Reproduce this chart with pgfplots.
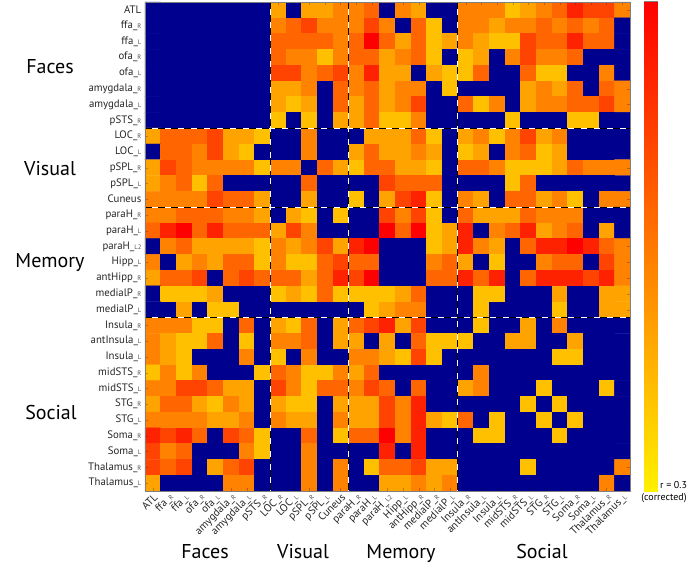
\documentclass[border=0pt]{standalone}
\usepackage{fontspec}
\setmainfont{PT Sans}
\usepackage{pgfplots}
\usepackage{pgfplotstable}
\pgfplotsset{compat=1.18}

\newcommand{\lb}[2]{#1\_{\fontsize{6.5}{7}\selectfont\color{black!70} #2}}
\def\labs{ATL,\lb{ffa}{R},\lb{ffa}{L},\lb{ofa}{R},\lb{ofa}{L},\lb{amygdala}{R},\lb{amygdala}{L},\lb{pSTS}{R},\lb{LOC}{R},\lb{LOC}{L},\lb{pSPL}{R},\lb{pSPL}{L},Cuneus,\lb{paraH}{R},\lb{paraH}{L},\lb{paraH}{L2},\lb{Hipp}{L},\lb{antHipp}{R},\lb{medialP}{R},\lb{medialP}{L},\lb{Insula}{R},\lb{antInsula}{L},\lb{Insula}{L},\lb{midSTS}{R},\lb{midSTS}{L},\lb{STG}{R},\lb{STG}{L},\lb{Soma}{R},\lb{Soma}{L},\lb{Thalamus}{R},\lb{Thalamus}{L}}

% r x 100, row by row, 0 = not significant
\pgfplotstableread[row sep=crcr]{
c\\
0\\0\\0\\0\\0\\0\\0\\0\\46\\0\\46\\46\\53\\53\\59\\0\\53\\46\\0\\0\\53\\53\\53\\40\\46\\53\\59\\73\\66\\66\\53\\
0\\0\\0\\0\\0\\0\\0\\0\\53\\59\\66\\53\\53\\53\\66\\53\\0\\59\\40\\0\\53\\53\\46\\53\\53\\59\\53\\59\\53\\59\\0\\
0\\0\\0\\0\\0\\0\\0\\0\\59\\59\\59\\59\\53\\59\\80\\59\\46\\59\\40\\46\\53\\46\\40\\40\\66\\59\\59\\73\\59\\59\\0\\
0\\0\\0\\0\\0\\0\\0\\0\\59\\53\\53\\40\\53\\59\\59\\46\\53\\59\\40\\0\\40\\46\\0\\53\\66\\53\\53\\59\\0\\0\\0\\
0\\0\\0\\0\\0\\0\\0\\0\\66\\66\\53\\59\\66\\53\\73\\46\\46\\0\\46\\40\\40\\59\\0\\0\\59\\40\\40\\0\\0\\53\\0\\
0\\0\\0\\0\\0\\0\\0\\0\\46\\46\\53\\0\\59\\53\\59\\46\\53\\53\\0\\40\\0\\0\\0\\0\\46\\53\\46\\59\\0\\59\\53\\
0\\0\\0\\0\\0\\0\\0\\0\\46\\40\\46\\0\\59\\46\\59\\46\\53\\66\\0\\0\\59\\40\\53\\0\\46\\53\\53\\59\\59\\66\\53\\
0\\0\\0\\0\\0\\0\\0\\0\\40\\0\\40\\0\\46\\46\\59\\40\\40\\53\\0\\0\\0\\0\\0\\40\\0\\0\\0\\40\\40\\0\\0\\
46\\59\\59\\59\\66\\46\\46\\40\\0\\0\\53\\0\\0\\0\\46\\46\\46\\59\\40\\0\\46\\53\\40\\53\\66\\46\\53\\0\\0\\0\\0\\
0\\59\\59\\53\\66\\46\\40\\0\\0\\0\\53\\0\\0\\46\\59\\46\\46\\53\\46\\0\\40\\46\\0\\53\\59\\40\\46\\0\\0\\0\\0\\
46\\66\\59\\53\\53\\53\\53\\40\\53\\53\\0\\59\\46\\40\\59\\59\\46\\46\\40\\0\\59\\59\\53\\40\\40\\40\\46\\59\\53\\53\\53\\
46\\53\\59\\40\\59\\0\\0\\0\\0\\0\\59\\0\\0\\0\\0\\66\\59\\59\\59\\0\\0\\0\\0\\40\\59\\0\\0\\0\\0\\0\\0\\
53\\53\\53\\53\\66\\59\\59\\46\\0\\0\\46\\0\\0\\40\\0\\46\\66\\73\\40\\0\\53\\46\\0\\59\\59\\46\\53\\40\\0\\53\\53\\
53\\53\\59\\59\\59\\53\\53\\46\\0\\46\\40\\0\\40\\0\\0\\66\\53\\66\\40\\0\\59\\46\\46\\46\\59\\53\\53\\53\\0\\0\\0\\
59\\73\\80\\59\\73\\59\\59\\59\\46\\66\\53\\0\\0\\0\\0\\80\\59\\80\\40\\46\\73\\0\\53\\59\\73\\46\\53\\59\\0\\46\\0\\
0\\53\\59\\46\\46\\46\\46\\40\\53\\46\\53\\66\\46\\73\\80\\0\\0\\0\\40\\46\\73\\53\\46\\0\\59\\73\\73\\80\\73\\59\\53\\
53\\0\\46\\53\\46\\59\\59\\40\\53\\40\\40\\59\\66\\59\\59\\0\\0\\0\\53\\59\\46\\0\\40\\0\\0\\53\\59\\59\\0\\66\\53\\
46\\59\\59\\66\\0\\59\\66\\59\\59\\59\\46\\59\\73\\66\\80\\0\\0\\0\\59\\59\\73\\59\\73\\0\\59\\73\\73\\73\\66\\73\\53\\
0\\40\\40\\40\\46\\0\\0\\0\\40\\46\\40\\59\\40\\40\\40\\40\\46\\59\\0\\0\\0\\40\\40\\0\\0\\0\\46\\0\\0\\46\\46\\
0\\0\\46\\0\\40\\40\\0\\0\\0\\0\\0\\0\\0\\0\\40\\46\\53\\53\\0\\0\\0\\40\\0\\0\\0\\0\\40\\0\\0\\46\\46\\
53\\53\\53\\40\\40\\0\\59\\0\\46\\40\\59\\0\\46\\59\\66\\73\\46\\66\\0\\0\\0\\40\\0\\0\\46\\0\\53\\0\\0\\0\\0\\
53\\46\\40\\40\\59\\0\\40\\0\\53\\53\\59\\0\\46\\46\\0\\46\\0\\59\\40\\40\\40\\0\\0\\46\\46\\0\\0\\46\\0\\0\\0\\
53\\46\\40\\0\\0\\0\\53\\0\\40\\0\\53\\0\\0\\53\\53\\46\\40\\66\\40\\0\\0\\0\\0\\0\\0\\0\\40\\40\\0\\0\\0\\
40\\53\\40\\53\\0\\0\\0\\40\\59\\53\\40\\40\\53\\46\\59\\0\\0\\0\\0\\0\\0\\53\\0\\0\\0\\0\\0\\0\\0\\0\\0\\
53\\53\\66\\66\\59\\46\\46\\0\\66\\53\\40\\59\\59\\53\\66\\59\\0\\59\\0\\0\\46\\53\\0\\0\\0\\40\\0\\0\\0\\40\\0\\
46\\59\\59\\46\\40\\53\\46\\0\\46\\40\\40\\0\\46\\46\\46\\66\\53\\73\\0\\0\\0\\0\\0\\0\\40\\0\\40\\0\\0\\0\\0\\
53\\53\\53\\53\\46\\46\\53\\0\\53\\46\\46\\0\\53\\46\\46\\66\\53\\73\\46\\40\\59\\0\\40\\0\\0\\40\\0\\40\\0\\0\\0\\
73\\66\\73\\59\\0\\66\\59\\40\\0\\0\\59\\0\\40\\59\\59\\80\\53\\73\\0\\0\\0\\40\\40\\0\\0\\0\\40\\0\\0\\0\\0\\
66\\53\\59\\0\\0\\0\\53\\40\\0\\0\\53\\0\\0\\0\\0\\73\\0\\73\\0\\0\\0\\0\\0\\0\\0\\0\\0\\0\\0\\0\\0\\
66\\59\\66\\0\\46\\59\\66\\0\\0\\0\\53\\0\\53\\0\\40\\59\\59\\66\\46\\46\\0\\0\\0\\0\\40\\0\\0\\0\\0\\0\\53\\
46\\0\\0\\0\\0\\53\\53\\0\\0\\0\\53\\0\\53\\0\\0\\46\\46\\53\\46\\53\\0\\0\\0\\0\\0\\0\\0\\0\\0\\53\\0\\
}\cells

\begin{document}
\begin{tikzpicture}[x=1pt,y=1pt]
\path[use as bounding box] (0,0) rectangle (688,565);
\begin{axis}[
    at={(145pt,74pt)}, anchor=south west,
    width=485pt, height=489pt, scale only axis,
    xmin=-0.5, xmax=30.5, ymin=-0.5, ymax=30.5,
    y dir=reverse,
    axis on top,
    axis line style={gray},
    tick align=inside,
    major tick length=3pt,
    tick style={black, opacity=0.25},
    xtick={0,...,30}, ytick={0,...,30},
    xticklabels/.expand once=\labs,
    yticklabels/.expand once=\labs,
    tick label style={font=\fontsize{10.8}{11}\selectfont, text=black!85},
    x tick label style={rotate=45, anchor=north east, inner sep=1pt},
    y tick label style={inner sep=3.5pt},
    point meta min=0, point meta max=80,
    colormap={cells}{rgb255(0)=(0,0,143); rgb255(29)=(0,0,143); rgb255(30)=(255,240,0); rgb255(80)=(255,0,0)},
    clip=false,
]
\addplot[matrix plot*, mesh/cols=31, point meta=\thisrow{c}]
    table[x index=0, y index=0, x expr={\coordindex-31*floor((\coordindex+0.5)/31)}, y expr={floor((\coordindex+0.5)/31)}] {\cells};
\foreach \v in {7.5,12.5,19.5} {
    \edef\tmp{
    \noexpand\addplot[white, line width=1pt, forget plot] coordinates {(\v,-0.5) (\v,30.5)};
    \noexpand\addplot[black, line width=1pt, dash pattern=on 6.5pt off 6.5pt, forget plot] coordinates {(\v,-0.5) (\v,30.5)};
    \noexpand\addplot[white, line width=1pt, forget plot] coordinates {(-0.5,\v) (30.5,\v)};
    \noexpand\addplot[black, line width=1pt, dash pattern=on 6.5pt off 6.5pt, forget plot] coordinates {(-0.5,\v) (30.5,\v)};
    }\tmp
}
\end{axis}
\begin{axis}[
    at={(644pt,74pt)}, anchor=south west,
    width=13pt, height=489pt, scale only axis,
    xmin=0, xmax=1, ymin=30, ymax=80,
    xtick=\empty, ytick=\empty,
    axis line style={gray, line width=1pt},
    point meta min=30, point meta max=80,
    colormap={bar}{rgb255(0)=(255,240,0); rgb255(50)=(255,0,0)},
]
\addplot[surf, shader=interp, mesh/rows=2, point meta=y] coordinates {(0,30) (1,30) (0,80) (1,80)};
\end{axis}
\begin{scope}[font=\fontsize{20}{24}\selectfont, text=black, anchor=base]
\node at (50,491) {Faces};
\node at (50,389) {Visual};
\node at (50,297) {Memory};
\node at (51,145) {Social};
\node at (205,7) {Faces};
\node at (303,7) {Visual};
\node at (401,7) {Memory};
\node at (542,7) {Social};
\end{scope}
\node[anchor=west, font=\fontsize{10}{11}\selectfont, inner sep=0] at (660,80) {r = 0.3};
\node[font=\fontsize{10}{11}\selectfont, inner sep=0] at (664,67) {(corrected)};
\end{tikzpicture}
\end{document}
